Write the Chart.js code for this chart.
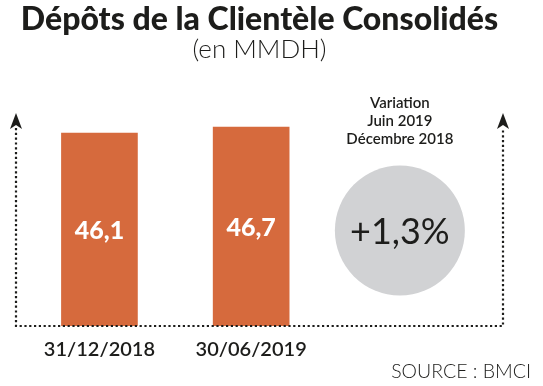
<!DOCTYPE html>
<html>
<head>
<meta charset="utf-8">
<script src="https://cdn.jsdelivr.net/npm/chart.js@4"></script>
<style>
  html, body { margin: 0; padding: 0; background: #fff; }
  #wrap { width: 543px; height: 386px; }
</style>
</head>
<body>
<div id="wrap"><canvas id="depotsChart" width="543" height="386"></canvas></div>
<script>
// data
const categories = ["31/12/2018", "30/06/2019"];
const depots = [46.1, 46.7];
const variationLines = ["Variation", "Juin 2019", "Décembre 2018"];
const sourceText = "SOURCE : BMCI";

const INK = "#1d1d1b";
const BAR = "#d66a3d";

function frNum(v, d) {
  return v.toFixed(d).replace(".", ",");
}

// the variation badge is worked out from the two values
const variation = (depots[1] - depots[0]) / depots[0] * 100;

// dotted frame with arrows, value labels, circle badge, source
const decorPlugin = {
  id: "decor",
  afterDatasetsDraw(chart) {
    const ctx = chart.ctx;
    const area = chart.chartArea;
    const xs = chart.scales.x;
    const ys = chart.scales.y;

    // values inside the bars
    ctx.save();
    ctx.fillStyle = "#ffffff";
    ctx.font = "900 25px Lato";
    ctx.textAlign = "center";
    ctx.textBaseline = "middle";
    depots.forEach((v, i) => {
      const px = xs.getPixelForValue(i);
      const top = ys.getPixelForValue(v);
      ctx.fillText(frNum(v, 1), px, (top + area.bottom) / 2 + 1);
    });
    ctx.restore();

    // dotted axes
    ctx.save();
    ctx.strokeStyle = INK;
    ctx.fillStyle = INK;
    ctx.lineWidth = 2.2;
    ctx.setLineDash([2.2, 2.6]);
    const headH = 15;
    ctx.beginPath();
    ctx.moveTo(area.left, area.top + headH);
    ctx.lineTo(area.left, area.bottom);
    ctx.lineTo(area.right, area.bottom);
    ctx.lineTo(area.right, area.top + headH);
    ctx.stroke();
    ctx.setLineDash([]);
    [area.left, area.right].forEach((x) => {
      ctx.beginPath();
      ctx.moveTo(x, area.top);
      ctx.lineTo(x + 6, area.top + headH + 1);
      ctx.lineTo(x, area.top + headH - 3);
      ctx.lineTo(x - 6, area.top + headH + 1);
      ctx.closePath();
      ctx.fill();
    });
    ctx.restore();

    // grey circle with the variation
    const cx = xs.getPixelForValue(2) - 3;
    const cy = (area.top + area.bottom) / 2 + 11;
    ctx.save();
    ctx.fillStyle = "#d1d2d4";
    ctx.beginPath();
    ctx.arc(cx, cy, 65, 0, Math.PI * 2);
    ctx.fill();
    ctx.fillStyle = INK;
    ctx.textAlign = "center";
    ctx.textBaseline = "middle";
    ctx.font = "400 36px Lato";
    ctx.fillText("+" + frNum(variation, 1) + "%", cx, cy + 2);
    ctx.font = "600 15px Lato";
    variationLines.forEach((t, i) => {
      ctx.fillText(t, cx, area.top - 10 + i * 18);
    });
    ctx.restore();

    // source
    ctx.save();
    ctx.fillStyle = INK;
    ctx.font = "300 19.5px Lato";
    ctx.textAlign = "right";
    ctx.textBaseline = "middle";
    ctx.fillText(sourceText, chart.width - 12, 372);
    ctx.restore();
  }
};

new Chart(document.getElementById("depotsChart"), {
  type: "bar",
  data: {
    datasets: [{
      data: depots.map((v, i) => ({ x: i, y: v })),
      backgroundColor: BAR,
      borderWidth: 0,
      barThickness: 76
    }]
  },
  options: {
    responsive: false,
    animation: false,
    layout: { padding: { left: 16, right: 40, bottom: 12 } },
    scales: {
      x: {
        type: "linear",
        offset: false,
        min: -0.55,
        max: 2.66,
        grid: { display: false, drawTicks: false },
        border: { display: false },
        ticks: {
          stepSize: 1,
          includeBounds: false,
          maxRotation: 0,
          autoSkip: false,
          padding: 12,
          color: INK,
          font: { family: "Lato", size: 20, weight: "600" },
          callback: (v) => categories[v] || ""
        }
      },
      y: {
        display: false,
        min: 27,
        max: 48.1
      }
    },
    plugins: {
      legend: { display: false },
      tooltip: { enabled: false },
      title: {
        display: true,
        text: "Dépôts de la Clientèle Consolidés",
        color: INK,
        font: { family: "Lato", size: 32, weight: "900", lineHeight: 1 },
        padding: { top: 4, bottom: 0 }
      },
      subtitle: {
        display: true,
        text: "(en MMDH)",
        color: INK,
        font: { family: "Lato", size: 26, weight: "300", lineHeight: 1 },
        padding: { top: 1, bottom: 50 }
      }
    }
  },
  plugins: [decorPlugin]
});
</script>
</body>
</html>
